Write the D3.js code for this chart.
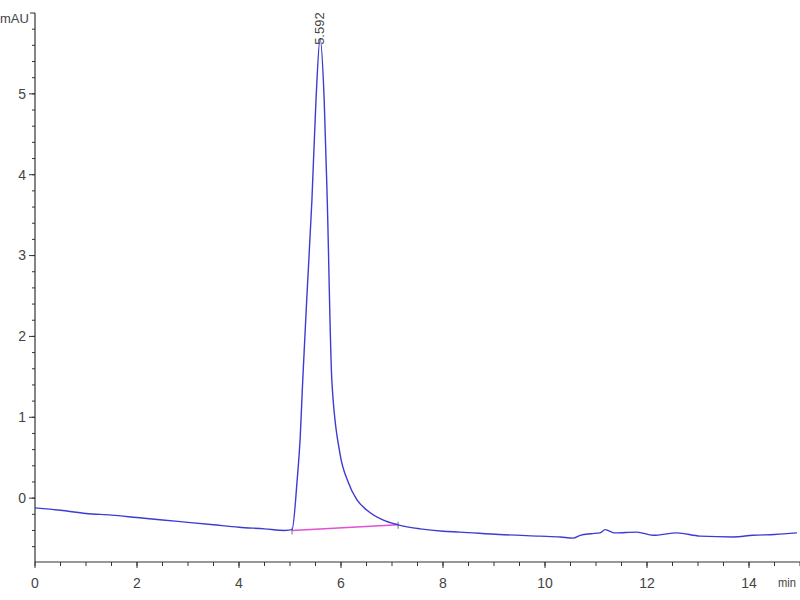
<!DOCTYPE html>
<html>
<head>
<meta charset="utf-8">
<script src="https://cdn.jsdelivr.net/npm/d3@7"></script>
<style>
  body { margin: 0; background: #fff; }
  text { font-family: "Liberation Sans Narrow", "Liberation Sans", Arial, sans-serif; fill: #444; }
</style>
</head>
<body>
<svg width="800" height="600"></svg>
<script>
// chromatogram trace (min, mAU)
const time = [0, 0.5, 1, 1.5, 2, 2.5, 3, 3.5, 4, 4.5, 4.9, 5.04, 5.14, 5.2, 5.25, 5.34, 5.43, 5.51, 5.59,
    5.67, 5.73, 5.82, 5.98, 6.14, 6.31, 6.51, 6.82, 7.12, 7.55, 8.0, 8.33, 9.1, 9.9, 10.3, 10.55, 10.69,
    10.9, 11.08, 11.18, 11.37, 11.8, 12.12, 12.59, 13.04, 13.69, 14.08, 14.5, 14.94];
const signal = [-0.12, -0.15, -0.19, -0.21, -0.24, -0.27, -0.30, -0.33, -0.36, -0.38, -0.40, -0.39, 0.22, 0.75, 1.46, 2.6, 3.69, 4.93, 5.68,
    4.93, 3.69, 1.46, 0.55, 0.2, -0.02, -0.15, -0.27, -0.33, -0.38, -0.41, -0.42, -0.45, -0.47, -0.48, -0.495, -0.46,
    -0.44, -0.43, -0.39, -0.43, -0.42, -0.46, -0.43, -0.47, -0.48, -0.46, -0.45, -0.43];

// integration baseline for the peak
const baseTime = [5.04, 7.12];
const baseValue = [-0.40, -0.33];

const peakTime = 5.592;
const peakHeight = 5.68;
const peakLabel = "5.592";

const yTicks = [0, 1, 2, 3, 4, 5];
const xTicks = [0, 2, 4, 6, 8, 10, 12, 14];

let svg = d3.select("svg");

const plotLeft = 35, plotRight = 800, plotTop = 13, plotBottom = 562;

let x = d3.scaleLinear().domain([0, 15]).range([plotLeft, plotRight]);
let y = d3.scaleLinear().domain([-0.79, 6.0]).range([plotBottom, plotTop]);

let axisColour = "#333";

// y axis
let yAxis = svg.append("g").attr("transform", "translate(" + plotLeft + ",0)");
yAxis.append("line")
    .attr("x1", 0).attr("x2", 0)
    .attr("y1", plotTop).attr("y2", plotBottom)
    .attr("stroke", axisColour).attr("stroke-width", 1.2);
yAxis.append("line")
    .attr("x1", -5).attr("x2", 0)
    .attr("y1", plotTop).attr("y2", plotTop)
    .attr("stroke", axisColour);

let yMinor = d3.range(-0.6, 5.95, 0.2);
yAxis.selectAll(".yminor")
    .data(yMinor)
    .join("line")
    .attr("x1", -3).attr("x2", 0)
    .attr("y1", d => y(d)).attr("y2", d => y(d))
    .attr("stroke", axisColour);
yAxis.selectAll(".ymajor")
    .data(yTicks)
    .join("line")
    .attr("x1", -6).attr("x2", 0)
    .attr("y1", d => y(d)).attr("y2", d => y(d))
    .attr("stroke", axisColour);
yAxis.selectAll(".ylabel")
    .data(yTicks)
    .join("text")
    .attr("x", -9)
    .attr("y", d => y(d))
    .attr("dy", "0.35em")
    .attr("text-anchor", "end")
    .attr("font-size", 14)
    .text(d => d);

svg.append("text")
    .attr("x", 0).attr("y", 23)
    .attr("font-size", 13)
    .text("mAU");

// x axis
let xAxis = svg.append("g").attr("transform", "translate(0," + plotBottom + ")");
xAxis.append("line")
    .attr("x1", plotLeft).attr("x2", plotRight)
    .attr("y1", 0).attr("y2", 0)
    .attr("stroke", axisColour).attr("stroke-width", 1.2);
xAxis.selectAll(".xminor")
    .data(d3.range(0, 15.01, 0.5))
    .join("line")
    .attr("x1", d => x(d)).attr("x2", d => x(d))
    .attr("y1", 0).attr("y2", 4)
    .attr("stroke", axisColour);
xAxis.selectAll(".xmajor")
    .data(xTicks)
    .join("line")
    .attr("x1", d => x(d)).attr("x2", d => x(d))
    .attr("y1", 0).attr("y2", 6)
    .attr("stroke", axisColour);
xAxis.selectAll(".xlabel")
    .data(xTicks)
    .join("text")
    .attr("x", d => x(d))
    .attr("y", 26)
    .attr("text-anchor", "middle")
    .attr("font-size", 14)
    .text(d => d);

svg.append("text")
    .attr("x", 778).attr("y", 587)
    .attr("font-size", 13)
    .attr("textLength", 18)
    .attr("lengthAdjust", "spacingAndGlyphs")
    .text("min");

// integration baseline
svg.append("line")
    .attr("x1", x(baseTime[0])).attr("y1", y(baseValue[0]))
    .attr("x2", x(baseTime[1])).attr("y2", y(baseValue[1]))
    .attr("stroke", "#e050d8").attr("stroke-width", 1.5);
svg.selectAll(".basetick")
    .data(baseTime)
    .join("line")
    .attr("x1", d => x(d)).attr("x2", d => x(d))
    .attr("y1", (d, i) => y(baseValue[i]) - 3)
    .attr("y2", (d, i) => y(baseValue[i]) + 4)
    .attr("stroke", "#555").attr("stroke-width", 0.8);

// trace
let line = d3.line()
    .x((d, i) => x(time[i]))
    .y((d, i) => y(signal[i]))
    .curve(d3.curveMonotoneX);

svg.append("path")
    .attr("d", line(signal))
    .attr("fill", "none")
    .attr("stroke", "#3c3cd2")
    .attr("stroke-width", 1.4);

// peak label
svg.append("text")
    .attr("transform", "translate(" + (x(peakTime) + 4) + "," + (y(peakHeight) + 6) + ") rotate(-90)")
    .attr("font-size", 13)
    .attr("fill", "#333")
    .text(peakLabel);
</script>
</body>
</html>
